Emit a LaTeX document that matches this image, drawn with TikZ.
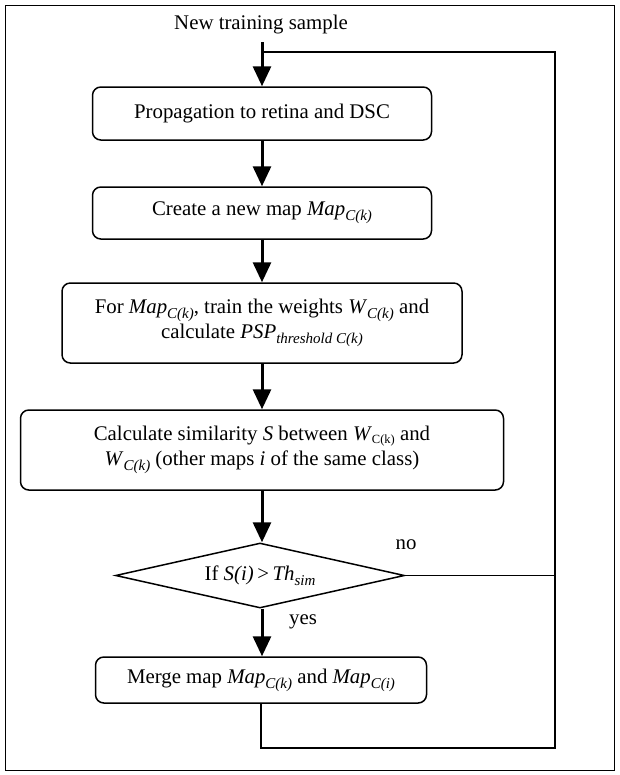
\documentclass[tikz,border=0pt]{standalone}
\usepackage{fontspec}
\setmainfont{Liberation Serif}
\usetikzlibrary{shapes.geometric,arrows.meta}
\newcommand{\isub}[2]{\textit{#1}\raisebox{-0.55ex}{\fontsize{9}{9}\selectfont\textit{#2}}}
\begin{document}
\begin{tikzpicture}[x=0.6pt,y=-0.6pt,font=\fontsize{12.5}{15}\selectfont,
  box/.style={draw,line width=0.9pt,rounded corners=5pt,align=center,inner sep=0pt},
  flow/.style={line width=1.8pt,-{Triangle[length=12pt,width=10.8pt]}},
  back/.style={line width=0.9pt}]
\useasboundingbox(0,0)rectangle(620,775);
\draw[line width=0.6pt](5,5)rectangle(614,770);

\node(start) at (261,25){New training sample};
\coordinate(top) at (262,42);
\coordinate(join) at (262,52);

\node[box,minimum width=203.4pt,minimum height=31.8pt](prop) at (262,113.5){Propagation to retina and DSC};
\node[box,minimum width=203.4pt,minimum height=31.2pt](newmap) at (262,213){Create a new map \isub{Map}{C(k)}};
\node[box,minimum width=240pt,minimum height=48pt](train) at (262,323){For \isub{Map}{C(k)}, train the weights \isub{W}{C(k)} and\\calculate \isub{PSP}{threshold C(k)}};
\node[box,minimum width=289.8pt,minimum height=48pt](simil) at (262,450){Calculate similarity \textit{S} between \textit{W}{\fontsize{7.5}{8}\selectfont\raisebox{-0.5ex}{C(k)}} and\\\isub{W}{C(k)} (other maps \textit{i} of the same class)};
\node[draw,diamond,aspect=4.4,line width=0.9pt,inner sep=0pt,minimum width=173.4pt,minimum height=39pt](test) at (260,575.5){If \textit{S(i)}\,>\,\isub{Th}{sim}};
\node[box,minimum width=198.6pt,minimum height=27.6pt](merge) at (261,680){Merge map \isub{Map}{C(k)} and \isub{Map}{C(i)}};

\draw[flow](top)--(prop);
\draw[flow](prop)--(newmap);
\draw[flow](newmap)--(train);
\draw[flow](train)--(simil);
\draw[flow](simil)--(simil.south|-test.north);
\draw[flow](simil.south|-test.south)--(simil.south|-merge.north);
\node(yes) at (303,622){yes};

\coordinate(c1) at (261,748);
\coordinate(c2) at (555,748);
\coordinate(c3) at (555,52);
\draw[back](merge.south)--(c1)--(c2)--(c3)--(join);
\draw[back](test.east)--(c2|-test.east);
\node(no) at (406,545){no};

\end{tikzpicture}
\end{document}
